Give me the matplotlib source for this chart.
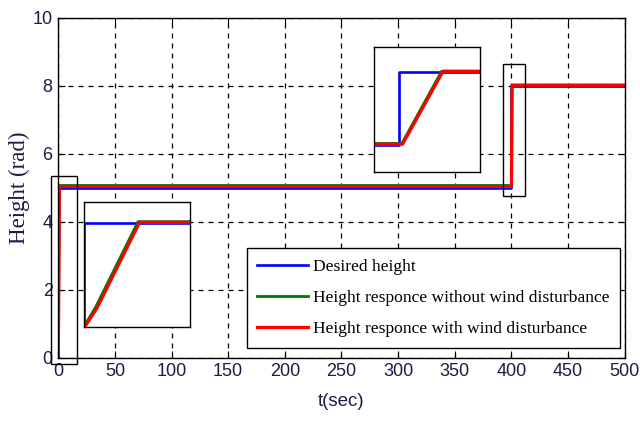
import numpy as np
import matplotlib.pyplot as plt
from matplotlib.patches import Rectangle

# reference height and simulated responses (breakpoints of piecewise-linear traces)
t_ref = [0, 0, 400, 400, 500]
h_ref = [0, 5, 5, 8, 8]

t_nowind = [0, 0.03, 0.22, 1.02, 400.04, 400.62, 500]
h_nowind = [0, 0.15, 0.95, 5.07, 5.07, 8.02, 8.02]

t_wind = [0, 0.04, 0.25, 1.05, 400.05, 400.64, 500]
h_wind = [0, 0.1, 0.93, 5.04, 5.04, 8.02, 8.02]

labels = ['Desired height',
          'Height responce without wind disturbance',
          'Height responce with wind disturbance']

serif = ['Liberation Serif', 'DejaVu Serif']
sans = ['Liberation Sans', 'DejaVu Sans']
txt_col = '#1c1c48'


def draw_traces(ax):
    ax.plot(t_ref, h_ref, color='#0000ff', lw=1.9, label=labels[0])
    ax.plot(t_nowind, h_nowind, color='#007700', lw=2.0, label=labels[1])
    ax.plot(t_wind, h_wind, color='#ff0000', lw=2.3, label=labels[2])


fig = plt.figure(figsize=(6.4, 4.26), dpi=100)
ax = fig.add_axes([0.091, 0.16, 0.885, 0.798])
draw_traces(ax)
ax.set_xlim(0, 500)
ax.set_ylim(0, 10)
ax.set_xticks(np.arange(0, 501, 50))
ax.set_yticks(np.arange(0, 11, 2))
ax.grid(True, color='black', linestyle=(0, (4, 4)), lw=0.9)
ax.tick_params(direction='in', top=True, right=True, length=5, labelsize=13,
               labelcolor=txt_col, pad=4)
for lab in ax.get_xticklabels() + ax.get_yticklabels():
    lab.set_family(sans)
for s in ax.spines.values():
    s.set_linewidth(1.0)
ax.set_xlabel('t(sec)', family=sans, fontsize=13.5, color=txt_col, labelpad=9)
ax.set_ylabel('Height (rad)', family=serif, fontsize=16.5, color=txt_col,
              labelpad=2)

# zoom boxes on the main axes
ax.add_patch(Rectangle((-6.2, -0.18), 23.0, 5.53, fill=False, ec='black',
                       lw=1.0, clip_on=False, zorder=5))
ax.add_patch(Rectangle((393, 4.76), 18.7, 3.89, fill=False, ec='black',
                       lw=1.0, clip_on=False, zorder=5))

leg = ax.legend(loc='lower right', bbox_to_anchor=(0.992, 0.029),
                borderaxespad=0, prop={'family': serif, 'size': 12.6},
                handlelength=2.86, handletextpad=0.3, labelspacing=0.85,
                fancybox=False, framealpha=1, edgecolor='black',
                borderpad=0.62)
leg.get_frame().set_linewidth(1.0)

# inset: rise at t = 0
ins1 = fig.add_axes([0.131, 0.232, 0.166, 0.293])
draw_traces(ins1)
ins1.set_xlim(0, 2)
ins1.set_ylim(0, 6)
ins1.set_xticks([])
ins1.set_yticks([])

# inset: step at t = 400
ins2 = fig.add_axes([0.584, 0.596, 0.166, 0.293])
draw_traces(ins2)
ins2.set_xlim(399.63, 401.18)
ins2.set_ylim(3.9, 9.0)
ins2.set_xticks([])
ins2.set_yticks([])

for a in (ins1, ins2):
    for s in a.spines.values():
        s.set_linewidth(1.0)

fig.savefig('out.png', dpi=100)
